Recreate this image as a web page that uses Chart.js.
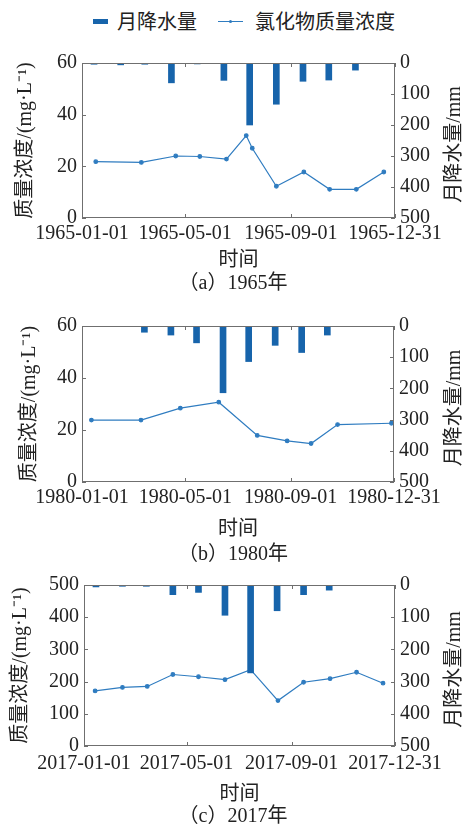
<!DOCTYPE html>
<html>
<head>
<meta charset="utf-8">
<script src="https://cdn.jsdelivr.net/npm/chart.js@4.4.0/dist/chart.umd.min.js"></script>
<style>
  body { margin: 0; background: #fff; width: 466px; height: 831px; position: relative; overflow: hidden; }
  .panel { position: absolute; left: 0; width: 466px; }
  #legend { position: absolute; left: 0; top: 0; width: 466px; height: 45px; font-family: 'Noto Sans CJK SC', sans-serif; font-size: 20px; color: #222; }
  #legend span { position: absolute; white-space: nowrap; }
</style>
</head>
<body>
<div id="legend">
  <span style="left:93px;top:19px;width:15px;height:5px;background:#1764ab;"></span>
  <span style="left:117px;top:7px;line-height:28px;">月降水量</span>
  <span style="left:218px;top:21px;width:25px;height:1px;background:#2f7cc0;"></span>
  <span style="left:229px;top:20px;width:3px;height:3px;border-radius:2px;background:#2f7cc0;"></span>
  <span style="left:255px;top:7px;line-height:28px;">氯化物质量浓度</span>
</div>
<div class="panel" style="top:45px;height:251px;"><canvas id="c1965"></canvas></div>
<div class="panel" style="top:306px;height:261px;"><canvas id="c1980"></canvas></div>
<div class="panel" style="top:568px;height:261px;"><canvas id="c2017"></canvas></div>
<script>
// mid-month positions (day of year) of the monthly rainfall bars
const rainDays = [14, 45, 73, 104, 134, 165, 195, 226, 257, 287, 318, 348];
const rain1965 = [4, 6, 4, 64, 3, 56, 200, 133, 59, 55, 23, 0];
const rain1980 = [0, 0, 20, 29, 54, 214, 114, 62, 85, 29, 2, 0];
const rain2017 = [6, 4, 4, 30, 23, 94, 273, 80, 30, 16, 2, 0];

// chloride sampling days and concentrations (mg/L)
const clDays1965 = [16, 69, 109, 137, 168, 191, 198, 226, 258, 288, 319, 351];
const cl1965 = [21.8, 21.5, 24.0, 23.8, 22.8, 31.9, 27.0, 12.3, 17.8, 11.1, 11.1, 17.8];
const clDays1980 = [11, 69, 115, 160, 205, 240, 268, 299, 362];
const cl1980 = [23.8, 23.8, 28.4, 30.7, 17.9, 15.8, 14.8, 22.1, 22.6];
const clDays2017 = [13, 45, 74, 104, 134, 165, 195, 227, 257, 288, 319, 350];
const cl2017 = [171, 182, 185, 222, 215, 206, 237, 141, 198, 209, 229, 195];

const tickDays1965 = [0, 120, 243, 364];
const tickLabels1965 = ['1965-01-01', '1965-05-01', '1965-09-01', '1965-12-31'];
const tickDays1980 = [0, 121, 244, 365];
const tickLabels1980 = ['1980-01-01', '1980-05-01', '1980-09-01', '1980-12-31'];
const tickDays2017 = [0, 120, 243, 364];
const tickLabels2017 = ['2017-01-01', '2017-05-01', '2017-09-01', '2017-12-31'];

const FONT = "'Liberation Serif', 'Noto Sans CJK SC', serif";
const TEXT = '#222';
const BAR = '#1764ab';
const LINE = '#2f7cc0';

const framePlugin = {
  id: 'frame',
  afterDatasetsDraw(chart) {
    const { ctx, chartArea: a, scales } = chart;
    ctx.save();
    ctx.strokeStyle = '#6f6f6f';
    ctx.lineWidth = 1;
    ctx.strokeRect(a.left + 0.5, a.top + 0.5, a.width - 1, a.height - 1);
    ctx.beginPath();
    scales.x.ticks.forEach(t => {
      const px = Math.round(scales.x.getPixelForValue(t.value)) + 0.5;
      ctx.moveTo(px, a.bottom); ctx.lineTo(px, a.bottom - 4);
      ctx.moveTo(px, a.top); ctx.lineTo(px, a.top + 4);
    });
    scales.y.ticks.forEach(t => {
      const py = Math.round(scales.y.getPixelForValue(t.value)) + 0.5;
      ctx.moveTo(a.left, py); ctx.lineTo(a.left + 4, py);
    });
    scales.y2.ticks.forEach(t => {
      const py = Math.round(scales.y2.getPixelForValue(t.value)) + 0.5;
      ctx.moveTo(a.right, py); ctx.lineTo(a.right - 4, py);
    });
    ctx.stroke();
    // right axis title, reading bottom to top
    ctx.translate(chart.width - 11, (a.top + a.bottom) / 2 + 4);
    ctx.rotate(-Math.PI / 2);
    ctx.font = '20px ' + FONT;
    ctx.fillStyle = TEXT;
    ctx.textAlign = 'center';
    ctx.textBaseline = 'middle';
    ctx.fillText('月降水量/mm', 0, 0);
    ctx.restore();
  }
};

function makePanel(id, p) {
  return new Chart(document.getElementById(id), {
    type: 'bar',
    data: {
      datasets: [
        {
          type: 'bar',
          label: '月降水量',
          data: rainDays.map((d, i) => ({ x: d, y: p.rain[i] })),
          yAxisID: 'y2',
          backgroundColor: BAR,
          barThickness: 6,
          order: 0
        },
        {
          type: 'line',
          label: '氯化物质量浓度',
          data: p.clDays.map((d, i) => ({ x: d, y: p.cl[i] })),
          yAxisID: 'y',
          borderColor: LINE,
          backgroundColor: LINE,
          borderWidth: 1.2,
          pointRadius: 1.8,
          pointHoverRadius: 1.8,
          tension: 0,
          order: 1
        }
      ]
    },
    options: {
      responsive: true,
      maintainAspectRatio: false,
      animation: false,
      layout: { padding: { top: p.padTop, left: 0, right: 0, bottom: 0 } },
      plugins: {
        legend: { display: false },
        tooltip: { enabled: false },
        title: {
          display: true,
          position: 'bottom',
          text: p.caption,
          color: TEXT,
          font: { family: FONT, size: 20, weight: 'normal', lineHeight: 1 },
          padding: { top: p.capPad, bottom: 2 }
        }
      },
      scales: {
        x: {
          type: 'linear',
          min: 0,
          max: p.tickDays[p.tickDays.length - 1],
          offset: false,
          grid: { display: false, drawTicks: false },
          border: { display: false },
          afterBuildTicks(s) { s.ticks = p.tickDays.map(v => ({ value: v })); },
          ticks: {
            autoSkip: false,
            maxRotation: 0,
            padding: p.tickPad,
            color: TEXT,
            font: { family: FONT, size: 20, lineHeight: 1.1 },
            callback: (v, i) => p.tickLabels[i]
          },
          title: {
            display: true,
            text: '时间',
            color: TEXT,
            font: { family: FONT, size: 20, lineHeight: 1 },
            padding: { top: p.titlePad, bottom: 0 }
          }
        },
        y: {
          position: 'left',
          min: 0,
          max: p.clMax,
          grid: { display: false, drawTicks: false },
          border: { display: false },
          ticks: { stepSize: p.clStep, padding: 5, color: TEXT, font: { family: FONT, size: 20 } },
          title: {
            display: true,
            text: '质量浓度/(mg·L⁻¹)',
            color: TEXT,
            font: { family: FONT, size: 20, lineHeight: 1 },
            padding: { top: p.yTitle - 10, bottom: 0 }
          },
          afterFit(s) { s.width = p.left; }
        },
        y2: {
          position: 'right',
          reverse: true,
          min: 0,
          max: 500,
          grid: { display: false, drawTicks: false },
          border: { display: false },
          ticks: { stepSize: 100, padding: 5, color: TEXT, font: { family: FONT, size: 20 } },
          afterFit(s) { s.width = 466 - p.right; }
        }
      }
    },
    plugins: [framePlugin]
  });
}

makePanel('c1965', {
  rain: rain1965, clDays: clDays1965, cl: cl1965, clMax: 60, clStep: 20,
  tickDays: tickDays1965, tickLabels: tickLabels1965, caption: '（a）1965年',
  padTop: 18, tickPad: 5, titlePad: 1, capPad: 3, left: 82, right: 395, yTitle: 26
});
makePanel('c1980', {
  rain: rain1980, clDays: clDays1980, cl: cl1980, clMax: 60, clStep: 20,
  tickDays: tickDays1980, tickLabels: tickLabels1980, caption: '（b）1980年',
  padTop: 20, tickPad: 5, titlePad: 6, capPad: 5, left: 82, right: 394, yTitle: 30
});
makePanel('c2017', {
  rain: rain2017, clDays: clDays2017, cl: cl2017, clMax: 500, clStep: 100,
  tickDays: tickDays2017, tickLabels: tickLabels2017, caption: '（c）2017年',
  padTop: 14, tickPad: 7, titlePad: 3, capPad: 2, left: 84, right: 395, yTitle: 21
});
</script>
</body>
</html>
